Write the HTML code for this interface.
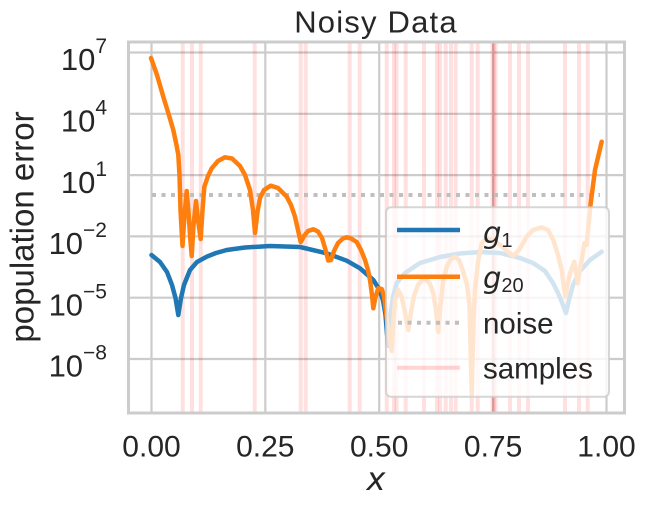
<!DOCTYPE html>
<html><head><meta charset="utf-8"><style>
html,body{margin:0;padding:0;background:#fff;}
svg{display:block;}
text{font-family:"Liberation Sans",Arial,sans-serif;fill:#262626;}
</style></head><body>
<svg width="645" height="509" viewBox="0 0 645 509" xmlns="http://www.w3.org/2000/svg">
<defs><clipPath id="ax"><rect x="128.5" y="42" width="496" height="371"/></clipPath></defs>
<rect width="645" height="509" fill="#fff"/>
<!-- grid -->
<g stroke="#cccccc" stroke-width="2.2">
<line x1="151.5" y1="42" x2="151.5" y2="413"/>
<line x1="265.3" y1="42" x2="265.3" y2="413"/>
<line x1="379.2" y1="42" x2="379.2" y2="413"/>
<line x1="493.1" y1="42" x2="493.1" y2="413"/>
<line x1="606.5" y1="42" x2="606.5" y2="413"/>
<line x1="128.5" y1="52.5" x2="624.5" y2="52.5"/>
<line x1="128.5" y1="113.8" x2="624.5" y2="113.8"/>
<line x1="128.5" y1="175.1" x2="624.5" y2="175.1"/>
<line x1="128.5" y1="236.4" x2="624.5" y2="236.4"/>
<line x1="128.5" y1="297.7" x2="624.5" y2="297.7"/>
<line x1="128.5" y1="359" x2="624.5" y2="359"/>
</g>
<!-- sample lines -->
<g stroke="rgba(255,0,0,0.12)" stroke-width="4">
<line x1="182.7" y1="42" x2="182.7" y2="413"/>
<line x1="192" y1="42" x2="192" y2="413"/>
<line x1="200.7" y1="42" x2="200.7" y2="413"/>
<line x1="254.7" y1="42" x2="254.7" y2="413"/>
<line x1="300.7" y1="42" x2="300.7" y2="413"/>
<line x1="305.7" y1="42" x2="305.7" y2="413"/>
<line x1="349.7" y1="42" x2="349.7" y2="413"/>
<line x1="359.7" y1="42" x2="359.7" y2="413"/>
<line x1="386.7" y1="42" x2="386.7" y2="413"/>
<line x1="394" y1="42" x2="394" y2="413"/>
<line x1="396.5" y1="42" x2="396.5" y2="413"/>
<line x1="405.7" y1="42" x2="405.7" y2="413"/>
<line x1="424" y1="42" x2="424" y2="413"/>
<line x1="437" y1="42" x2="437" y2="413"/>
<line x1="440" y1="42" x2="440" y2="413"/>
<line x1="445.7" y1="42" x2="445.7" y2="413"/>
<line x1="451" y1="42" x2="451" y2="413"/>
<line x1="455.7" y1="42" x2="455.7" y2="413"/>
<line x1="471.7" y1="42" x2="471.7" y2="413"/>
<line x1="477.7" y1="42" x2="477.7" y2="413"/>
<line x1="492.5" y1="42" x2="492.5" y2="413"/>
<line x1="494" y1="42" x2="494" y2="413"/>
<line x1="495.7" y1="42" x2="495.7" y2="413"/>
<line x1="510" y1="42" x2="510" y2="413"/>
<line x1="519" y1="42" x2="519" y2="413"/>
<line x1="528" y1="42" x2="528" y2="413"/>
<line x1="565" y1="42" x2="565" y2="413"/>
<line x1="579" y1="42" x2="579" y2="413"/>
<line x1="587.7" y1="42" x2="587.7" y2="413"/>
</g>
<g clip-path="url(#ax)" fill="none" stroke-linejoin="round" stroke-linecap="round">
<!-- noise -->
<line x1="152" y1="195" x2="600" y2="195" stroke="#bfbfbf" stroke-width="4" stroke-dasharray="4 5.5" stroke-linecap="butt"/>
<!-- g1 -->
<polyline stroke="#1f77b4" stroke-width="4.5" points="151.5,255 160,262 167,272 172,285 175.5,298 178.3,315 181,298 184,285 190,270 197,262 206.7,256.7 216,253 226.7,250 245,247.5 270,246 300,247 326.7,253.3 346.7,260.7 360,268.3 373.3,280 379,289 383,300 385.5,315 388,346 390.5,315 393,297 396.7,283 405,273 420,263 440,257 460,253.5 480,252 500,253 520,258 533,263 545,271 553,283 559,295 563,305 566,313 569,300 573,285 580,271 590,260 601.7,251.7"/>
<!-- g20 -->
<polyline stroke="#ff7f0e" stroke-width="4.5" points="151,58 157,75 163.3,96.7 168,112 173.3,130 176.5,145 178.3,155 179.5,175 180.5,210 182.5,246 184.5,215 186.7,191 188.5,212 190,235 191.7,256 193.5,225 196,201 198,220 200.7,239 202.5,210 204.3,187 208,176 211.7,168.3 218,161 225,157.3 232,158.5 240,166 245,175 250,190 253,210 255,233 257.5,212 260,198 264,190 270.7,185.7 278,188 286.7,196.7 291,205 295,216.7 298,230 300.7,242 304,236 308,231 313.3,229.3 318,231.5 322,238 325,248 328.3,260.5 331,260 334,251 338,243 343,238.5 346.7,237.3 351,238.5 356.7,242 361,250 365,260 368,270 370,280 372,295 373.3,308.3 375.5,297 378.3,288.3 381.7,289 384,296 387,320 391.7,351 393.5,320 395,300 398.3,290 401.7,297 405,312 408.3,330 411,312 414,296 418,285 422,280.5 426.7,280 430,284 433.3,293.3 436,310 438.3,331.7 440.5,305 443.3,280 447,266 451,259 455,256.7 459,260 463.3,272 467,285 469.5,305 471.7,394 473.5,320 475,290 478,262 481.7,243.3 486.7,238.3 493,239.5 500,245 507,251 513.3,256 519,250 526.7,236.7 533,230 541.7,227.3 548,230 553.3,240 558,255 561.7,270 564,288 565.5,297 567.5,285 570,273.3 574.3,261.7 576,272 577.7,283.3 579.5,272 581.7,260 584.3,243.3 586.7,245 588.3,226.7 590.7,203.3 595,170 601.7,141.7"/>
</g>
<!-- legend -->
<rect x="386" y="207.3" width="223" height="189.5" rx="5" ry="5" fill="#ffffff" fill-opacity="0.8" stroke="#cccccc" stroke-opacity="0.8" stroke-width="2"/>
<line x1="397" y1="230" x2="460" y2="230" stroke="#1f77b4" stroke-width="4.5"/>
<line x1="397" y1="276.7" x2="460" y2="276.7" stroke="#ff7f0e" stroke-width="4.5"/>
<line x1="398" y1="322.7" x2="460" y2="322.7" stroke="#bfbfbf" stroke-width="4" stroke-dasharray="4 5.5"/>
<line x1="397" y1="367.7" x2="460" y2="367.7" stroke="rgba(255,0,0,0.17)" stroke-width="4"/>
<text x="483" y="243" style="font-family:'DejaVu Sans',sans-serif;font-style:italic;font-size:29px">g<tspan style="font-family:'Liberation Sans',sans-serif;font-style:normal;font-size:20px" dy="4">1</tspan></text>
<text x="483" y="288" style="font-family:'DejaVu Sans',sans-serif;font-style:italic;font-size:29px">g<tspan style="font-family:'Liberation Sans',sans-serif;font-style:normal;font-size:20px" dy="4">20</tspan></text>
<text x="483" y="333.3" style="font-size:29.5px">noise</text>
<text x="483" y="378.3" style="font-size:29.5px">samples</text>
<!-- frame -->
<rect x="128.5" y="42" width="496" height="371" fill="none" stroke="#cccccc" stroke-width="3"/>
<!-- title -->
<text x="376" y="32.5" text-anchor="middle" style="font-size:31px;letter-spacing:1.2px">Noisy Data</text>
<!-- x ticks -->
<g style="font-size:30px" text-anchor="middle">
<text x="151.5" y="456.5">0.00</text>
<text x="265.3" y="456.5">0.25</text>
<text x="379.2" y="456.5">0.50</text>
<text x="493.1" y="456.5">0.75</text>
<text x="606.5" y="456.5">1.00</text>
</g>
<!-- y ticks -->
<g style="font-size:31px" text-anchor="end">
<text x="107" y="70.2">10<tspan dy="-17" style="font-size:21px">7</tspan></text>
<text x="107" y="131.5">10<tspan dy="-17" style="font-size:21px">4</tspan></text>
<text x="107" y="192.8">10<tspan dy="-17" style="font-size:21px">1</tspan></text>
<text x="107" y="254.1">10<tspan dy="-17" style="font-size:21px">−2</tspan></text>
<text x="107" y="315.4">10<tspan dy="-17" style="font-size:21px">−5</tspan></text>
<text x="107" y="376.7">10<tspan dy="-17" style="font-size:21px">−8</tspan></text>
</g>
<!-- axis labels -->
<text x="33.5" y="227" text-anchor="middle" transform="rotate(-90 33.5 227)" style="font-size:33px">population error</text>
<text x="376" y="490" text-anchor="middle" style="font-family:'DejaVu Sans',sans-serif;font-style:italic;font-size:32px">x</text>
</svg>
</body></html>
